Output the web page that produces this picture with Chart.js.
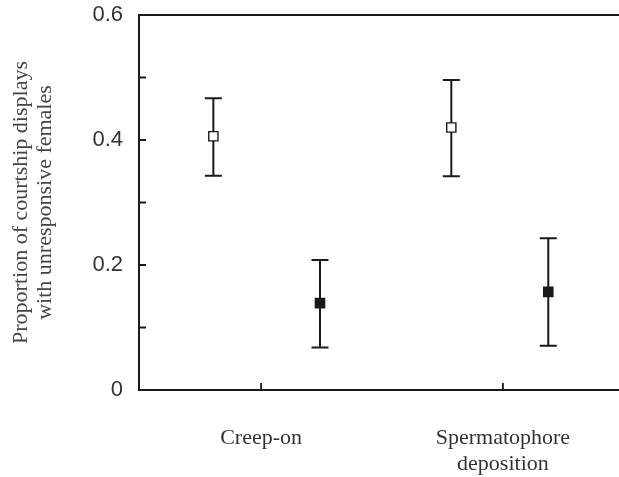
<!DOCTYPE html>
<html>
<head>
<meta charset="utf-8">
<script src="https://cdn.jsdelivr.net/npm/chart.js@4"></script>
<style>
  body { margin: 0; background: #fff; overflow: hidden; }
</style>
</head>
<body>
<canvas id="chart" width="619" height="477"></canvas>
<script>
// categories sit at x = 1 and x = 3 on the linear axis
const categories = ["Creep-on", ["Spermatophore", "deposition"]];
const categoryTicks = [1, 3];

// open squares
const openX = [0.605, 2.573];
const openMean = [0.406, 0.420];
const openLow = [0.343, 0.342];
const openHigh = [0.467, 0.496];

// filled squares
const filledX = [1.487, 3.375];
const filledMean = [0.139, 0.157];
const filledLow = [0.068, 0.071];
const filledHigh = [0.208, 0.243];

const yTicks = [0, 0.1, 0.2, 0.3, 0.4, 0.5, 0.6];
const yLabelled = [0, 0.2, 0.4, 0.6];

const ink = "#1a1a1a";

function points(xs, ys, lo, hi) {
    return xs.map((x, i) => ({ x: x, y: ys[i], lo: lo[i], hi: hi[i] }));
}

// whiskers + inward tick marks
const errorBars = {
    id: "errorBars",
    beforeDatasetsDraw(chart) {
        const ctx = chart.ctx;
        const xs = chart.scales.x;
        const ys = chart.scales.y;
        ctx.save();
        ctx.strokeStyle = ink;
        ctx.lineWidth = 2;
        chart.data.datasets.forEach(ds => {
            ds.data.forEach(p => {
                const px = xs.getPixelForValue(p.x);
                const top = ys.getPixelForValue(p.hi);
                const bot = ys.getPixelForValue(p.lo);
                ctx.beginPath();
                ctx.moveTo(px, top);
                ctx.lineTo(px, bot);
                ctx.moveTo(px - 8.5, top);
                ctx.lineTo(px + 8.5, top);
                ctx.moveTo(px - 8.5, bot);
                ctx.lineTo(px + 8.5, bot);
                ctx.stroke();
            });
        });
        ctx.restore();
    },
    afterDraw(chart) {
        const ctx = chart.ctx;
        const area = chart.chartArea;
        const xs = chart.scales.x;
        const ys = chart.scales.y;
        ctx.save();
        ctx.strokeStyle = ink;
        ctx.lineWidth = 1.8;
        ctx.beginPath();
        ys.ticks.forEach(t => {
            const py = ys.getPixelForValue(t.value);
            ctx.moveTo(area.left, py);
            ctx.lineTo(area.left + 7, py);
        });
        xs.ticks.forEach(t => {
            const px = xs.getPixelForValue(t.value);
            ctx.moveTo(px, area.bottom);
            ctx.lineTo(px, area.bottom - 7);
        });
        ctx.stroke();
        ctx.restore();
    }
};

const ctx = document.getElementById("chart").getContext("2d");

new Chart(ctx, {
    type: "scatter",
    data: {
        datasets: [
            {
                label: "open",
                data: points(openX, openMean, openLow, openHigh),
                pointStyle: "rect",
                pointRadius: 6.5,
                backgroundColor: "#fff",
                borderColor: ink,
                borderWidth: 1.4
            },
            {
                label: "filled",
                data: points(filledX, filledMean, filledLow, filledHigh),
                pointStyle: "rect",
                pointRadius: 6.5,
                backgroundColor: ink,
                borderColor: ink,
                borderWidth: 1.4
            }
        ]
    },
    options: {
        responsive: false,
        animation: false,
        layout: { padding: 0, autoPadding: false },
        plugins: {
            legend: { display: false },
            tooltip: { enabled: false }
        },
        scales: {
            x: {
                type: "linear",
                position: "bottom",
                min: -0.01,
                max: 3.96,
                afterFit: s => {
                    s.height = 87;
                    s.paddingLeft = 0;
                    s.paddingRight = 0;
                },
                afterBuildTicks: s => { s.ticks = categoryTicks.map(v => ({ value: v })); },
                grid: { display: false, drawTicks: false },
                border: { display: true, color: ink, width: 2 },
                ticks: {
                    padding: 35,
                    color: "#333",
                    font: { family: "'Liberation Serif', serif", size: 22, lineHeight: 1.2 },
                    callback: (v) => categories[categoryTicks.indexOf(v)]
                }
            },
            x2: {
                type: "linear",
                position: "top",
                min: 0,
                max: 1,
                afterFit: s => {
                    s.height = 15;
                    s.paddingLeft = 0;
                    s.paddingRight = 0;
                },
                grid: { display: false, drawTicks: false },
                border: { display: true, color: ink, width: 2 },
                ticks: { display: false }
            },
            y: {
                min: 0,
                max: 0.6,
                afterFit: s => {
                    s.width = 139;
                    s.paddingTop = 0;
                    s.paddingBottom = 0;
                },
                afterBuildTicks: s => { s.ticks = yTicks.map(v => ({ value: v })); },
                grid: { display: false, drawTicks: false },
                border: { display: true, color: ink, width: 2 },
                ticks: {
                    padding: 16,
                    color: "#333",
                    font: { family: "'Liberation Sans', sans-serif", size: 22 },
                    callback: (v) => yLabelled.includes(v) ? (v === 0 ? "0" : v.toFixed(1)) : ""
                },
                title: {
                    display: true,
                    text: ["Proportion of courtship displays", "with unresponsive females"],
                    color: "#444",
                    padding: { top: 9, bottom: 0 },
                    font: { family: "'Liberation Serif', serif", size: 22, lineHeight: 1.1 }
                }
            }
        }
    },
    plugins: [errorBars]
});
</script>
</body>
</html>
